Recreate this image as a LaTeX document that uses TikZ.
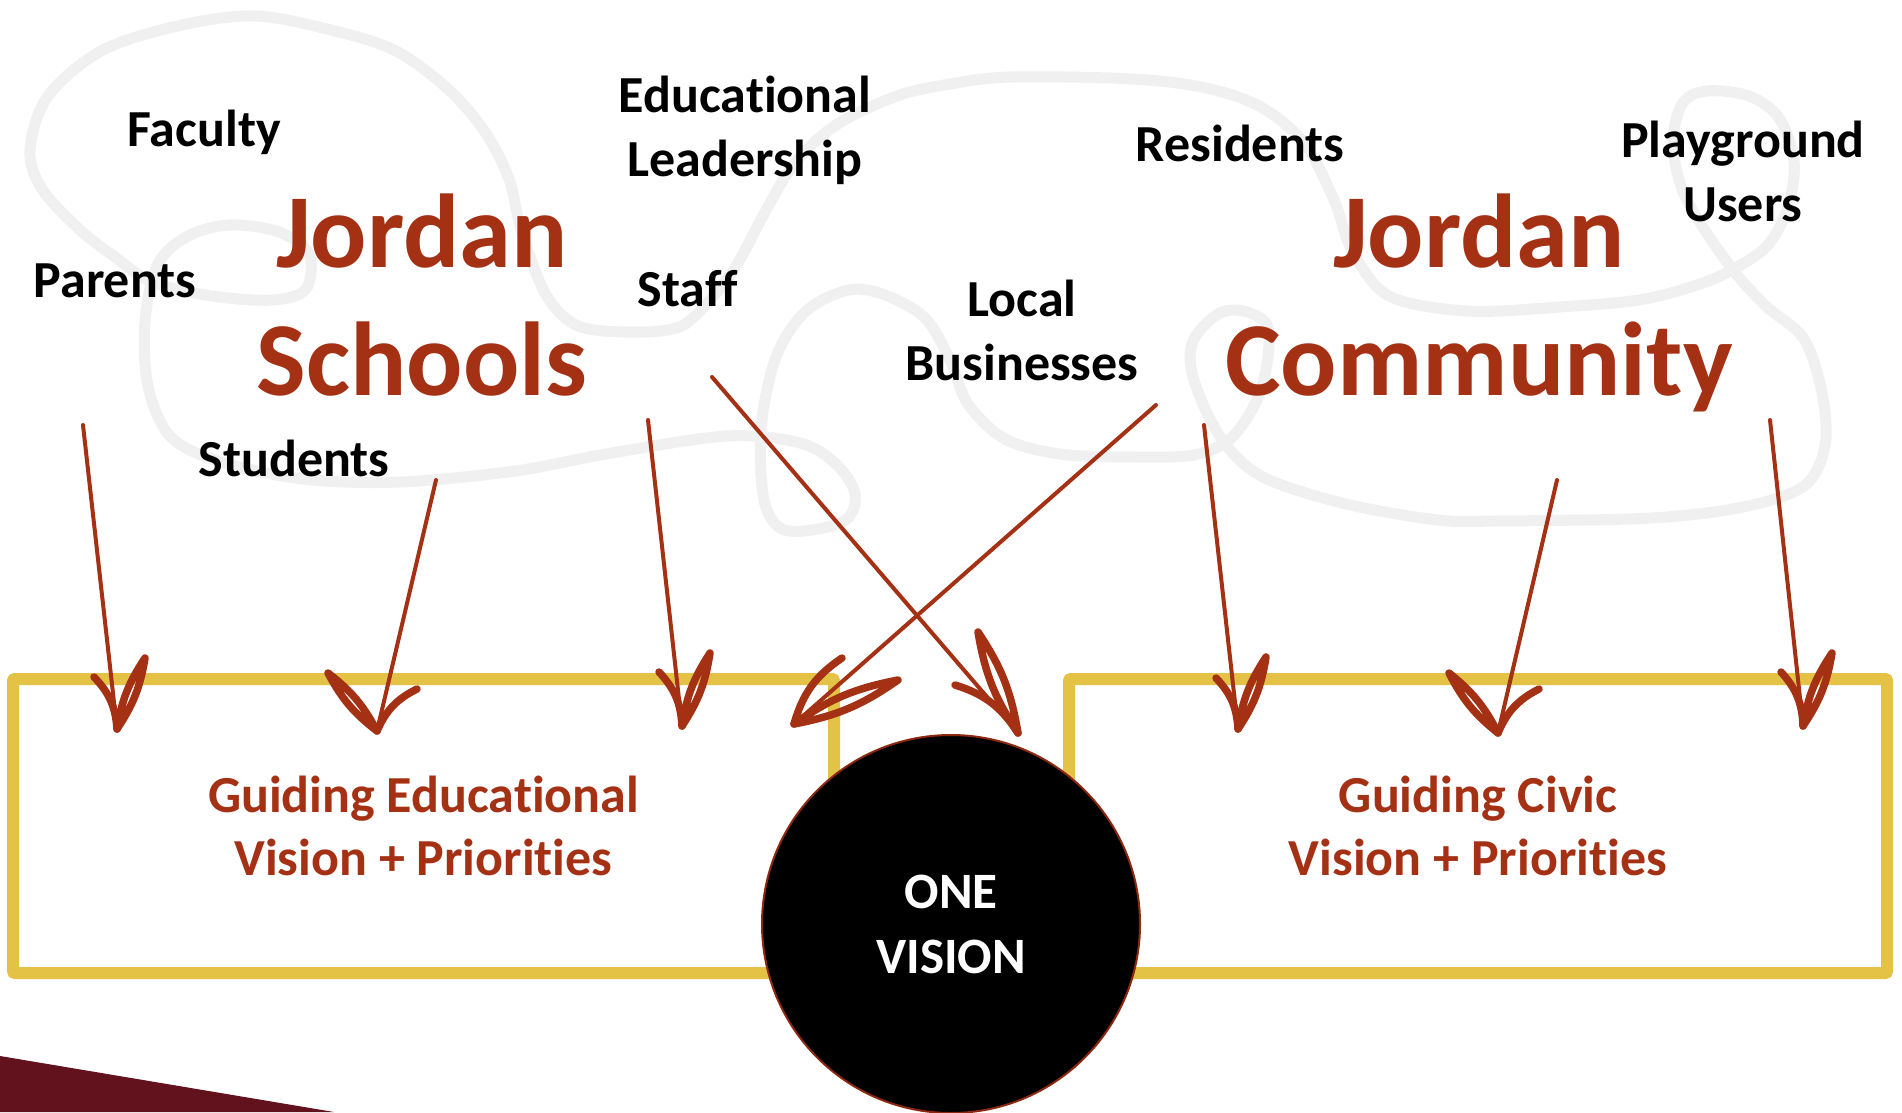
\documentclass[tikz,border=0pt]{standalone}
\usepackage{fontspec}
\setmainfont{Carlito}[Ligatures=NoCommon]
\definecolor{rust}{RGB}{165,49,21}
\definecolor{gold}{RGB}{227,194,70}
\definecolor{blobgray}{RGB}{240,240,240}
\definecolor{darkmaroon}{RGB}{97,18,28}
\definecolor{rimred}{RGB}{140,40,15}
\newcommand{\skhead}[4]{%
  \draw[headstroke] (#2) to[bend #4=20] (#1);
  \draw[headstroke] (#1) to[bend left=12] (#3) to[bend left=12] (#1);
}
\begin{document}
\begin{tikzpicture}[x=1pt,y=-1pt,
  lbl/.style={font=\bfseries\fontsize{52}{63.5}\selectfont, text=black, align=center, inner sep=0pt, anchor=base},
  big/.style={font=\bfseries\fontsize{105}{128}\selectfont, text=rust, align=center, inner sep=0pt, anchor=base},
  panel/.style={draw=gold, line width=12pt, rounded corners=2pt, font=\bfseries\fontsize{52}{63}\selectfont, text=rust, align=center, inner sep=0pt},
  onecircle/.style={circle, fill=black, draw=rimred, line width=2pt, inner sep=0pt, text=white, align=center, font=\bfseries\fontsize{51}{65}\selectfont},
  shaft/.style={draw=rust, line width=4pt, line cap=round},
  headstroke/.style={draw=rust, line width=7.5pt, line cap=round, line join=round},
  blob/.style={draw=blobgray, line width=11pt, line join=round}
]
\useasboundingbox (0,0) rectangle (1902,1112);
\fill[white] (0,0) rectangle (1902,1112);

% background scribble
\draw[blob] plot[smooth cycle, tension=0.55] coordinates {
(30,150) (48,96) (103,50) (182,25) (255,16) (327,29) (394,50) (448,89) (485,132) (509,179)
(521,229) (545,293) (576,325) (624,332) (673,329) (697,314) (733,271) (764,214) (794,164)
(836,125) (897,96) (950,84) (1011,77) (1133,79) (1206,88) (1261,107) (1304,143) (1334,200)
(1352,250) (1389,296) (1468,311) (1560,307) (1639,300) (1694,286) (1730,271) (1767,246)
(1788,207) (1794,161) (1779,118) (1749,96) (1706,91) (1682,104) (1673,143) (1682,189)
(1706,232) (1737,275) (1767,307) (1804,339) (1822,393) (1825,446) (1804,486) (1743,507)
(1651,518) (1499,521) (1438,520) (1346,504) (1267,479) (1230,450) (1206,411) (1191,368)
(1194,339) (1218,314) (1243,311) (1267,325) (1267,364) (1255,404) (1230,439) (1194,455)
(1133,457) (1060,454) (1005,439) (968,404) (950,360) (925,318) (885,295) (849,290) (806,311)
(776,357) (761,429) (764,500) (782,529) (818,529) (848,518) (855,493) (836,464) (800,443)
(727,436) (606,454) (515,471) (400,482) (303,479) (218,461) (170,436) (148,386) (145,321)
(158,264) (188,236) (230,225) (279,232) (309,254) (306,289) (273,300) (212,296) (152,282)
(115,257) (79,229) (42,189)};

% corner shape
\fill[darkmaroon] (0,1056) -- (334,1112) -- (0,1112) -- cycle;

% panels and circle
\node[panel, minimum width=821pt, minimum height=294pt] (edu) at (423.5,826) {Guiding Educational\\Vision + Priorities};
\node[panel, minimum width=818pt, minimum height=294pt] (civic) at (1478,826) {Guiding Civic\\Vision + Priorities};
\node[onecircle, minimum size=378pt] (one) at (951,924) {ONE\\VISION};

% titles (anchor base = baseline of last line)
\node[big] (schools) at (422,395) {Jordan\\Schools};
\node[big] (community) at (1479,395) {Jordan\\Community};

% labels
\node[lbl] (faculty) at (204,146) {Faculty};
\node[lbl] (parents) at (115,297) {Parents};
\node[lbl] (students) at (294,476) {Students};
\node[lbl] (leader) at (745,176) {Educational\\Leadership};
\node[lbl] (staff) at (688,306) {Staff};
\node[lbl] (business) at (1022,380) {Local\\Businesses};
\node[lbl] (residents) at (1240,161) {Residents};
\node[lbl] (playground) at (1743,221) {Playground\\Users};

% arrow end points
\coordinate (a1s) at (83,425);   \coordinate (a1t) at (117,729);
\coordinate (a1b) at (94,677);   \coordinate (a1l) at (145,658);
\coordinate (a2s) at (436,480);  \coordinate (a2t) at (377,731);
\coordinate (a2b) at (417,689);  \coordinate (a2l) at (328,673);
\coordinate (a3s) at (648,420);  \coordinate (a3t) at (682,726);
\coordinate (a3b) at (659,672);  \coordinate (a3l) at (710,653);
\coordinate (a4s) at (1156,405); \coordinate (a4t) at (794,724);
\coordinate (a4b) at (842,658);  \coordinate (a4l) at (898,680);
\coordinate (a5s) at (712,377);  \coordinate (a5t) at (1018,733);
\coordinate (a5b) at (955,685);  \coordinate (a5l) at (978,632);
\coordinate (a6s) at (1204,425); \coordinate (a6t) at (1238,729);
\coordinate (a6b) at (1216,678); \coordinate (a6l) at (1266,657);
\coordinate (a7s) at (1557,480); \coordinate (a7t) at (1498,733);
\coordinate (a7b) at (1539,689); \coordinate (a7l) at (1449,673);
\coordinate (a8s) at (1770,420); \coordinate (a8t) at (1803,726);
\coordinate (a8b) at (1781,672); \coordinate (a8l) at (1832,653);

% arrows
\draw[shaft] (a1s) -- (a1t); \skhead{a1t}{a1b}{a1l}{left}
\draw[shaft] (a2s) -- (a2t); \skhead{a2t}{a2b}{a2l}{right}
\draw[shaft] (a3s) -- (a3t); \skhead{a3t}{a3b}{a3l}{left}
\draw[shaft] (a4s) -- (a4t); \skhead{a4t}{a4b}{a4l}{right}
\draw[shaft] (a5s) -- (a5t); \skhead{a5t}{a5b}{a5l}{left}
\draw[shaft] (a6s) -- (a6t); \skhead{a6t}{a6b}{a6l}{left}
\draw[shaft] (a7s) -- (a7t); \skhead{a7t}{a7b}{a7l}{right}
\draw[shaft] (a8s) -- (a8t); \skhead{a8t}{a8b}{a8l}{left}
\end{tikzpicture}
\end{document}
